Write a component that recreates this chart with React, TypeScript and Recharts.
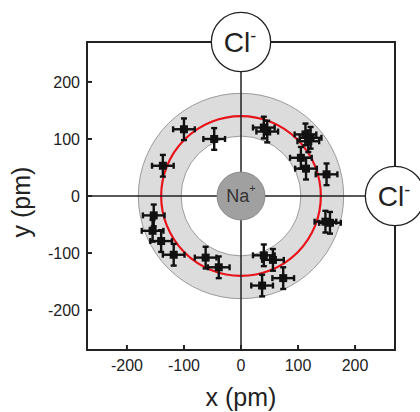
import {
  ScatterChart,
  Scatter,
  XAxis,
  YAxis,
  ZAxis,
  ErrorBar,
  ReferenceLine,
  ReferenceDot,
  ReferenceArea,
} from 'recharts'

// positions in pm
const xs = [-100, -47, -137, 40, 46, 113, 122, 118, 105, 114, 150, -153, -155, -140, -118, -62, -39, 40, 56, 74, 37, 148, 156]
const ys = [117, 100, 53, 120, 113, 108, 102, 96, 67, 48, 38, -34, -61, -79, -103, -108, -125, -104, -112, -144, -157, -45, -47]
const xErr = [19, 19, 19, 19, 19, 19, 19, 19, 19, 19, 19, 19, 19, 19, 19, 19, 19, 19, 19, 19, 19, 19, 19]
const yErr = [19, 19, 19, 19, 19, 19, 19, 19, 19, 19, 19, 19, 19, 19, 19, 19, 19, 19, 19, 19, 19, 19, 19]

const ticks = [-200, -100, 0, 100, 200]
const domain: [number, number] = [-270, 270]

// radii in pm
const shellOuter = 180
const shellInner = 105
const meanRadius = 140
const naRadius = 42
const clRadius = 52

const W = 420
const H = 412
const margin = { top: 42, right: 25, left: 0, bottom: 0 }
const Y_AXIS_W = 87
const X_AXIS_H = 62
const plotW = W - margin.left - margin.right - Y_AXIS_W
const pxPerPm = plotW / (domain[1] - domain[0])

const FONT = '"Liberation Sans", Arial, sans-serif'
const INK = '#222'

const data = xs.map((x, i) => ({ x, y: ys[i], ex: xErr[i], ey: yErr[i] }))

// eslint-disable-next-line @typescript-eslint/no-explicit-any
function XTick(props: any) {
  const { x, y, payload } = props
  return (
    <g>
      <line x1={x} x2={x} y1={y} y2={y - 5} stroke={INK} strokeWidth={2} />
      <text x={x} y={y + 21} textAnchor="middle" fontSize={16} fill={INK} fontFamily={FONT}>
        {payload.value}
      </text>
    </g>
  )
}

// eslint-disable-next-line @typescript-eslint/no-explicit-any
function YTick(props: any) {
  const { x, y, payload } = props
  return (
    <g>
      <line x1={x} x2={x + 5} y1={y} y2={y} stroke={INK} strokeWidth={2} />
      <text x={x - 7} y={y} dy="0.35em" textAnchor="end" fontSize={16} fill={INK} fontFamily={FONT}>
        {payload.value}
      </text>
    </g>
  )
}

// eslint-disable-next-line @typescript-eslint/no-explicit-any
function XLabel(props: any) {
  const vb = props.viewBox
  return (
    <text x={vb.x + vb.width / 2} y={vb.y + 56} textAnchor="middle" fontSize={25} fill={INK} fontFamily={FONT}>
      x (pm)
    </text>
  )
}

// eslint-disable-next-line @typescript-eslint/no-explicit-any
function YLabel(props: any) {
  const vb = props.viewBox
  const cx = vb.x + 30
  const cy = vb.y + vb.height / 2 + 6
  return (
    <text
      x={cx}
      y={cy}
      transform={`rotate(-90 ${cx} ${cy})`}
      textAnchor="middle"
      fontSize={25}
      fill={INK}
      fontFamily={FONT}
    >
      y (pm)
    </text>
  )
}

// eslint-disable-next-line @typescript-eslint/no-explicit-any
function ClIon(props: any) {
  const { cx, cy } = props
  return (
    <g>
      <circle cx={cx} cy={cy} r={clRadius * pxPerPm} fill="#fff" stroke={INK} strokeWidth={1.3} />
      <text x={cx - 1} y={cy} dy="0.36em" textAnchor="middle" fontSize={28} fill={INK} fontFamily={FONT}>
        Cl
        <tspan dy={-10} fontSize={18}>
          -
        </tspan>
      </text>
    </g>
  )
}

// eslint-disable-next-line @typescript-eslint/no-explicit-any
function NaIon(props: any) {
  const { cx, cy } = props
  return (
    <g>
      <circle cx={cx} cy={cy} r={naRadius * pxPerPm} fill="#a0a0a0" stroke="#8a8a8a" strokeWidth={1} />
      <text x={cx} y={cy} dy="0.36em" textAnchor="middle" fontSize={18} fill="#333" fontFamily={FONT}>
        Na
        <tspan dy={-10} fontSize={11}>
          +
        </tspan>
      </text>
    </g>
  )
}

export default function App() {
  return (
    <div style={{ position: 'absolute', left: 0, top: 0, width: W, height: H, background: '#fff' }}>
      <ScatterChart width={W} height={H} margin={margin}>
        <XAxis
          type="number"
          dataKey="x"
          domain={domain}
          ticks={ticks}
          allowDataOverflow
          height={X_AXIS_H}
          axisLine={{ stroke: INK, strokeWidth: 2 }}
          tickLine={false}
          tickSize={0}
          tickMargin={0}
          tick={XTick}
          label={<XLabel />}
        />
        <YAxis
          type="number"
          dataKey="y"
          domain={domain}
          ticks={ticks}
          allowDataOverflow
          width={Y_AXIS_W}
          axisLine={{ stroke: INK, strokeWidth: 2 }}
          tickLine={false}
          tickSize={0}
          tickMargin={0}
          tick={YTick}
          label={<YLabel />}
        />
        <ZAxis range={[100, 100]} />
        <ReferenceArea zIndex={1} x1={domain[0]} x2={domain[1]} y1={domain[0]} y2={domain[1]} fill="none" stroke={INK} strokeWidth={2} ifOverflow="visible" />
        <ReferenceDot zIndex={2} x={0} y={0} r={shellOuter * pxPerPm} fill="#dcdcdc" stroke="#9a9a9a" strokeWidth={1} ifOverflow="visible" />
        <ReferenceDot zIndex={3} x={0} y={0} r={shellInner * pxPerPm} fill="#fff" stroke="#9a9a9a" strokeWidth={1} ifOverflow="visible" />
        <ReferenceDot zIndex={4} x={0} y={0} r={meanRadius * pxPerPm} fill="none" stroke="#e8141c" strokeWidth={2.2} ifOverflow="visible" />
        <ReferenceLine zIndex={5} x={0} stroke={INK} strokeWidth={1.5} />
        <ReferenceLine zIndex={5} y={0} stroke={INK} strokeWidth={1.5} />
        <ReferenceDot zIndex={6} x={0} y={0} shape={NaIon} ifOverflow="visible" />
        <ReferenceDot zIndex={7} x={0} y={domain[1]} shape={ClIon} ifOverflow="visible" />
        <ReferenceDot zIndex={7} x={domain[1]} y={0} shape={ClIon} ifOverflow="visible" />
        <Scatter zIndex={9} data={data} shape="square" fill="#111" isAnimationActive={false}>
          <ErrorBar zIndex={8} dataKey="ex" direction="x" width={3} stroke="#111" strokeWidth={2.4} />
          <ErrorBar zIndex={8} dataKey="ey" direction="y" width={3} stroke="#111" strokeWidth={2.4} />
        </Scatter>
      </ScatterChart>
    </div>
  )
}
